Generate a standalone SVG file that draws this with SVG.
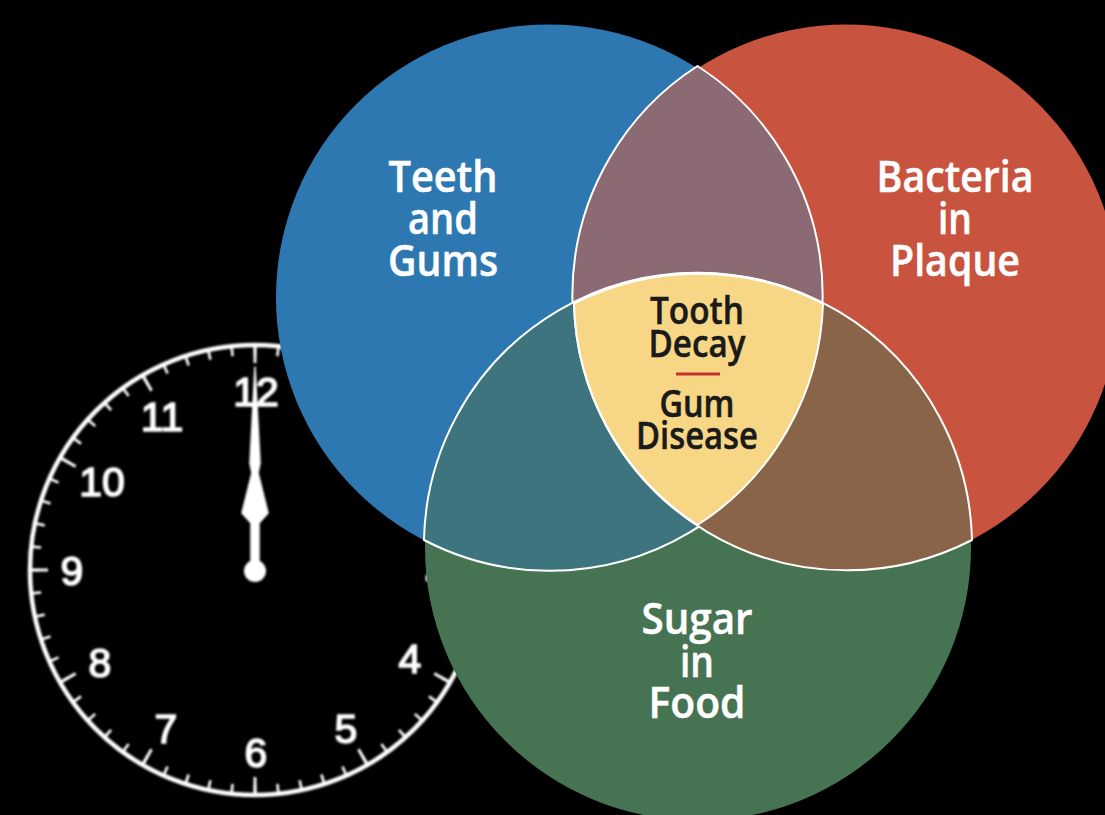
<svg xmlns="http://www.w3.org/2000/svg" width="1105" height="815" viewBox="0 0 1105 815">
<defs>
<filter id="soft" x="-5%" y="-5%" width="110%" height="110%"><feGaussianBlur stdDeviation="0.9"/></filter>
</defs>
<style>
.lens{stroke:#fff;stroke-width:2;stroke-linejoin:round}
.big{font-family:"Open Sans","Noto Sans",sans-serif;font-weight:600;font-size:43px;fill:#fff;stroke:#fff;stroke-width:.5;text-anchor:middle}
.mid{font-family:"Open Sans","Noto Sans",sans-serif;font-weight:600;font-size:37px;fill:#1a1a1a;stroke:#1a1a1a;stroke-width:.5;text-anchor:middle}
.num{font-family:"Liberation Sans",Arial,sans-serif;font-size:41px;fill:#fff;stroke:#fff;stroke-width:1.6;text-anchor:middle}
</style>
<rect width="1105" height="815" fill="#000"/>
<g id="clock" filter="url(#soft)">
<circle cx="255" cy="570" r="225" fill="none" stroke="#fff" stroke-width="4.500"/>
<circle cx="255" cy="570" r="220" fill="none" stroke="#fff" stroke-width="10" pathLength="360" stroke-dasharray="0.7 5.300" stroke-dashoffset="0.350"/>
<circle cx="255" cy="570" r="216" fill="none" stroke="#fff" stroke-width="18" pathLength="360" stroke-dasharray="0.8 29.200" stroke-dashoffset="0.400"/>
<text class="num" x="256" y="406">12</text>
<text class="num" x="162" y="431">11</text>
<text class="num" x="102" y="496">10</text>
<text class="num" x="72" y="585">9</text>
<text class="num" x="100" y="677">8</text>
<text class="num" x="166" y="743">7</text>
<text class="num" x="256" y="767">6</text>
<text class="num" x="346" y="743">5</text>
<text class="num" x="410" y="673">4</text>
<path fill="#fff" stroke="#fff" stroke-width="1.500" stroke-linejoin="round" d="M255 367L260 463L258 473L268 513L259 523V562H251V523L242 513L252 473L250 463Z"/>
<circle cx="255" cy="571" r="11" fill="#fff"/>
<ellipse cx="428" cy="578" rx="2.500" ry="4" fill="#fff"/>
</g>
<g id="circle-teeth"><circle cx="549" cy="297.500" r="273" fill="#2e78b2"/></g>
<g id="circle-bacteria"><circle cx="846" cy="297.500" r="273" fill="#c85440"/></g>
<g id="circle-sugar"><circle cx="698" cy="547.500" r="273" fill="#467452"/></g>
<g id="overlaps">
<path id="lens-teeth-bacteria" class="lens" fill="#8c6a74" d="M697.500 66A273 273 0 0 1 697.500 525A273 273 0 0 1 697.500 66Z"/>
<path id="lens-teeth-sugar" class="lens" fill="#3e747e" d="M424 540A273 273 0 0 1 823 303.500A273 273 0 0 1 424 540Z"/>
<path id="lens-bacteria-sugar" class="lens" fill="#8a6448" d="M972 540A273 273 0 0 0 574 303.500A273 273 0 0 0 972 540Z"/>
</g>
<g id="center">
<path class="lens" fill="#f7d785" d="M574 303.500A274.500 274.500 0 0 1 823 303.500A273 273 0 0 1 697.500 525A273 273 0 0 1 574 303.500Z"/>
<text class="mid" x="697" y="324" textLength="94" lengthAdjust="spacingAndGlyphs">Tooth</text>
<text class="mid" x="697" y="357" textLength="97" lengthAdjust="spacingAndGlyphs">Decay</text>
<path d="M676 374H720" stroke="#c8322d" stroke-width="3"/>
<text class="mid" x="697" y="417" textLength="75" lengthAdjust="spacingAndGlyphs">Gum</text>
<text class="mid" x="697" y="449" textLength="122" lengthAdjust="spacingAndGlyphs">Disease</text>
</g>
<g id="label-teeth">
<text class="big" x="443" y="192" textLength="109" lengthAdjust="spacingAndGlyphs">Teeth</text>
<text class="big" x="443" y="234" textLength="70" lengthAdjust="spacingAndGlyphs">and</text>
<text class="big" x="443" y="276" textLength="110" lengthAdjust="spacingAndGlyphs">Gums</text>
</g>
<g id="label-bacteria">
<text class="big" x="955" y="192" textLength="157" lengthAdjust="spacingAndGlyphs">Bacteria</text>
<text class="big" x="955" y="234" textLength="34" lengthAdjust="spacingAndGlyphs">in</text>
<text class="big" x="955" y="276" textLength="130" lengthAdjust="spacingAndGlyphs">Plaque</text>
</g>
<g id="label-sugar">
<text class="big" x="697" y="634" textLength="111" lengthAdjust="spacingAndGlyphs">Sugar</text>
<text class="big" x="697" y="677" textLength="34" lengthAdjust="spacingAndGlyphs">in</text>
<text class="big" x="697" y="718" textLength="97" lengthAdjust="spacingAndGlyphs">Food</text>
</g>
<g id="connectors"/>
</svg>
